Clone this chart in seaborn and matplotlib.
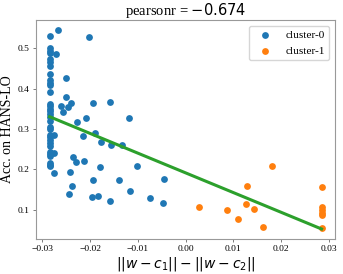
import numpy as np
import pandas as pd
import matplotlib
matplotlib.use("Agg")
import matplotlib.pyplot as plt
import seaborn as sns

# cluster-0 points (blue)
c0_col_y = [0.529, 0.501, 0.494, 0.488, 0.474, 0.466, 0.457, 0.437, 0.421, 0.414,
            0.408, 0.392, 0.363, 0.357, 0.350, 0.344, 0.337, 0.330, 0.320, 0.306,
            0.301, 0.286, 0.280, 0.272, 0.265, 0.258, 0.244, 0.239, 0.234, 0.216,
            0.212, 0.208]
c0_x = [-0.0285] * len(c0_col_y) + [
    -0.0267, -0.0202, -0.0272, -0.0251, -0.0251, -0.0262, -0.0241, -0.0246, -0.0257,
    -0.0195, -0.0159, -0.0227, -0.0209, -0.0119, -0.0190, -0.0216, -0.0178, -0.0156,
    -0.0133, -0.0275, -0.0276, -0.0276, -0.0236, -0.0230, -0.0212, -0.0242, -0.0179,
    -0.0194, -0.0238, -0.0244, -0.0196, -0.0184, -0.0101, -0.0140, -0.0046, -0.0117,
    -0.0158, -0.0074, -0.0048]
c0_y = c0_col_y + [
    0.545, 0.527, 0.486, 0.426, 0.379, 0.358, 0.365, 0.355, 0.341,
    0.365, 0.367, 0.318, 0.327, 0.328, 0.291, 0.282, 0.267, 0.260,
    0.261, 0.286, 0.241, 0.191, 0.231, 0.219, 0.220, 0.193, 0.205,
    0.173, 0.160, 0.138, 0.132, 0.133, 0.209, 0.173, 0.176, 0.147,
    0.123, 0.129, 0.116]

# cluster-1 points (orange)
c1_x = [0.0029, 0.0087, 0.0109, 0.0129, 0.0126, 0.0143, 0.0162, 0.0181,
        0.0285, 0.0285, 0.0285, 0.0285, 0.0285, 0.0285]
c1_y = [0.107, 0.099, 0.077, 0.158, 0.114, 0.101, 0.057, 0.209,
        0.157, 0.108, 0.100, 0.093, 0.087, 0.054]

title_text = r"pearsonr = $-0.674$"

plt.rcParams['font.family'] = ['Liberation Serif', 'DejaVu Serif']
plt.rcParams['mathtext.fontset'] = 'dejavusans'

fig, ax = plt.subplots(figsize=(3.43, 2.74), dpi=100)

sns.scatterplot(x=c0_x, y=c0_y, color='#1f77b4', s=24, linewidth=0, label='cluster-0', ax=ax)
sns.scatterplot(x=c1_x, y=c1_y, color='#ff7f0e', s=24, linewidth=0, label='cluster-1', ax=ax)

all_x = np.array(c0_x + c1_x)
all_y = np.array(c0_y + c1_y)
sns.regplot(x=all_x, y=all_y, scatter=False, ci=None, color='#2ca02c',
            line_kws={'linewidth': 2.2}, ax=ax)

ax.set_xticks([-0.03, -0.02, -0.01, 0.0, 0.01, 0.02, 0.03])
ax.set_yticks([0.1, 0.2, 0.3, 0.4, 0.5])
ax.tick_params(labelsize=6.8, length=2.5, width=0.6, color='0.4', pad=2)
for sp in ax.spines.values():
    sp.set_color('0.6')

ax.set_title(title_text, fontsize=10.5, pad=3)
ax.set_xlabel(r"$||w - c_1|| - ||w - c_2||$", fontsize=10, labelpad=1)
ax.set_ylabel("Acc. on HANS-LO", fontsize=10, labelpad=3)
ax.legend(loc='upper right', fontsize=8.2)

fig.subplots_adjust(left=0.105, right=0.977, top=0.927, bottom=0.128)
plt.savefig("out.png", dpi=100)
plt.close()
